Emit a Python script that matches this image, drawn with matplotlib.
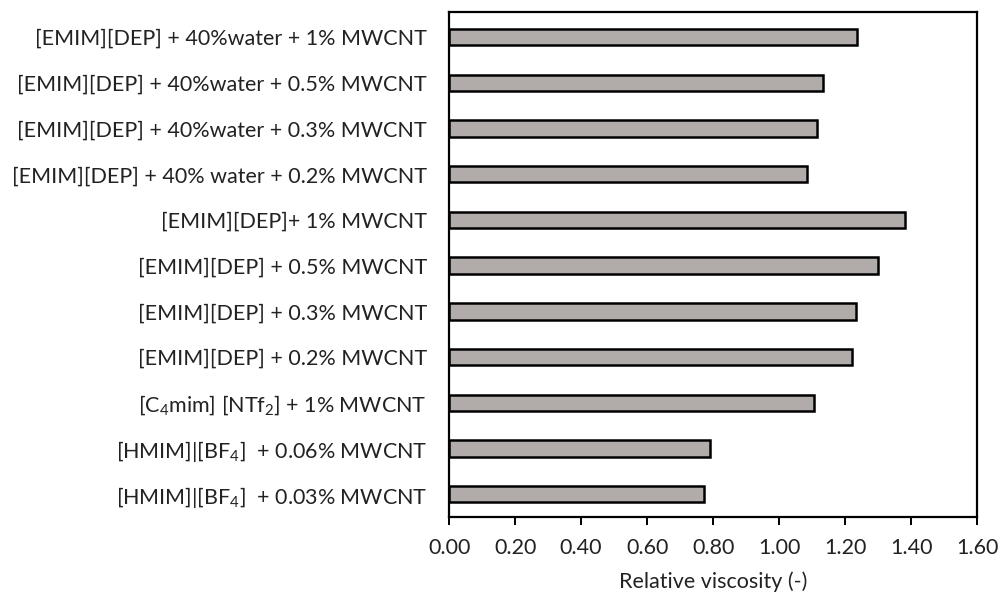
import matplotlib
matplotlib.use("Agg")
import matplotlib.pyplot as plt
import numpy as np

plt.rcParams['font.family'] = ['Lato', 'DejaVu Sans']
plt.rcParams['mathtext.default'] = 'regular'

# samples listed from bottom to top
samples = [
    "[HMIM]|[BF$_4$]  + 0.03% MWCNT",
    "[HMIM]|[BF$_4$]  + 0.06% MWCNT",
    "[C$_4$mim] [NTf$_2$] + 1% MWCNT",
    "[EMIM][DEP] + 0.2% MWCNT",
    "[EMIM][DEP] + 0.3% MWCNT",
    "[EMIM][DEP] + 0.5% MWCNT",
    "[EMIM][DEP]+ 1% MWCNT",
    "[EMIM][DEP] + 40% water + 0.2% MWCNT",
    "[EMIM][DEP] + 40%water + 0.3% MWCNT",
    "[EMIM][DEP] + 40%water + 0.5% MWCNT",
    "[EMIM][DEP] + 40%water + 1% MWCNT",
]
rel_visc = [0.774, 0.792, 1.107, 1.222, 1.233, 1.300, 1.382, 1.086, 1.114, 1.132, 1.235]
xticks = [0.0, 0.2, 0.4, 0.6, 0.8, 1.0, 1.2, 1.4, 1.6]

fig = plt.figure(figsize=(9.98, 5.97), dpi=100)
ax = fig.add_axes([0.45, 0.134, 0.529, 0.846])

y = np.arange(len(samples))
ax.barh(y, rel_visc, height=0.36, color='#b1acaa', edgecolor='black', linewidth=1.8)

ax.set_xlim(0, 1.6)
ax.set_ylim(-0.5, len(samples) - 0.45)
ax.set_xticks(xticks)
ax.set_xticklabels(["%.2f" % v for v in xticks], fontsize=15.5, color='#222222')
ax.set_yticks(y)
ax.set_yticklabels(samples, fontsize=15.5, color='#222222')
ax.tick_params(axis='y', length=0, pad=16)
ax.tick_params(axis='x', direction='out', length=6, width=1.4, pad=9)
for s in ax.spines.values():
    s.set_linewidth(1.6)

ax.set_xlabel("Relative viscosity (-)", fontsize=15.5, color='#222222', labelpad=10)

fig.savefig("out.png", dpi=100)
